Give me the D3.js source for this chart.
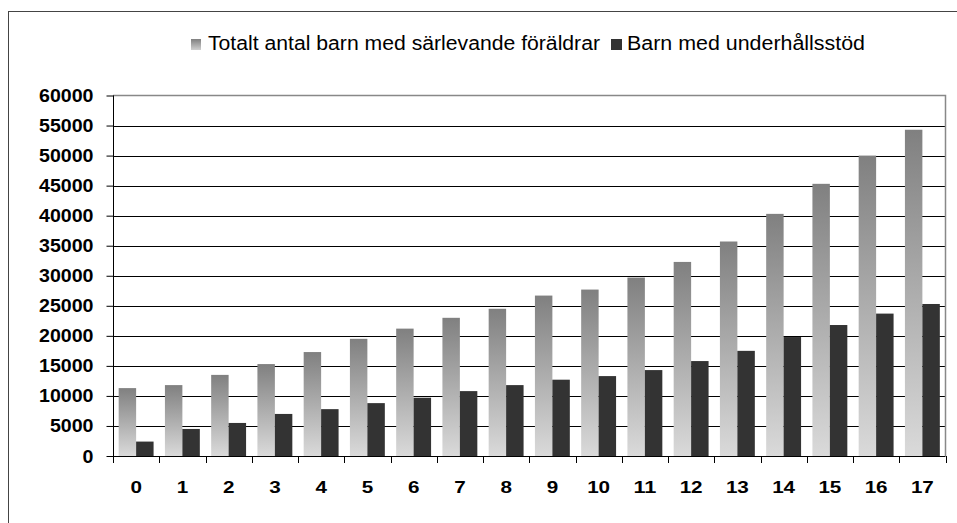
<!DOCTYPE html>
<html><head><meta charset="utf-8">
<script src="https://cdn.jsdelivr.net/npm/d3@7"></script>
<style>body{margin:0;background:#fff}svg{display:block}</style>
</head><body>
<svg id="c" width="957" height="523"></svg>
<script>
const categories = ["0","1","2","3","4","5","6","7","8","9","10","11","12","13","14","15","16","17"];
const totalChildren = [11300,11800,13500,15300,17300,19500,21200,23000,24500,26700,27700,29700,32300,35700,40300,45300,50000,54300];
const supportChildren = [2400,4500,5500,7000,7800,8800,9700,10800,11800,12700,13300,14300,15800,17500,19800,21800,23700,25300];
const seriesNames = ["Totalt antal barn med särlevande föräldrar","Barn med underhållsstöd"];
const yTicks = [0,5000,10000,15000,20000,25000,30000,35000,40000,45000,50000,55000,60000];

const FONT = "Liberation Sans, Arial, sans-serif";
const svg = d3.select("#c");
const L = 113, R = 945.5, T = 95.5, B = 456;

// outer border
svg.append("rect").attr("x",8.5).attr("y",11.5).attr("width",960).attr("height",530)
  .attr("fill","none").attr("stroke","#444").attr("stroke-width",1);

const defs = svg.append("defs");
const g = defs.append("linearGradient").attr("id","grad").attr("x1",0).attr("y1",0).attr("x2",0).attr("y2",1);
g.append("stop").attr("offset","0%").attr("stop-color","#808080");
g.append("stop").attr("offset","100%").attr("stop-color","#dadada");
const lg = defs.append("linearGradient").attr("id","lgrad").attr("x1",0).attr("y1",0).attr("x2",0).attr("y2",1);
lg.append("stop").attr("offset","0%").attr("stop-color","#808080");
lg.append("stop").attr("offset","100%").attr("stop-color","#d0d0d0");

const x = d3.scaleBand().domain(categories).range([L,R]).paddingInner(0).paddingOuter(0);
const y = d3.scaleLinear().domain([0,60000]).range([B,T]);
const inner = d3.scaleBand().domain([0,1]).range([0,x.bandwidth()]).paddingInner(0).paddingOuter(0.325);

// gridlines
svg.append("g").selectAll("line").data(yTicks.filter(d=>d>0 && d<60000)).join("line")
  .attr("x1",L).attr("x2",R).attr("y1",d=>Math.round(y(d))+0.5).attr("y2",d=>Math.round(y(d))+0.5)
  .attr("stroke","#000").attr("stroke-width",1);
// plot border top/right
svg.append("path").attr("d",`M${L},${T}H${R}V${B}`).attr("fill","none").attr("stroke","#888").attr("stroke-width",1.5);

// bars
const data = categories.map((c,i)=>({c, v:[totalChildren[i], supportChildren[i]]}));
const grp = svg.append("g").selectAll("g").data(data).join("g").attr("transform",d=>`translate(${x(d.c)},0)`);
grp.append("rect").attr("x",inner(0)).attr("width",inner.bandwidth())
  .attr("y",d=>y(d.v[0])).attr("height",d=>B-y(d.v[0])).attr("fill","url(#grad)");
grp.append("rect").attr("x",inner(1)).attr("width",inner.bandwidth())
  .attr("y",d=>y(d.v[1])).attr("height",d=>B-y(d.v[1])).attr("fill","#333333");

// y axis
const ya = svg.append("g").attr("transform",`translate(${L+0.5},0)`)
  .call(d3.axisLeft(y).tickValues(yTicks).tickSize(7).tickPadding(13).tickFormat(d3.format("d")));
ya.select(".domain").attr("stroke","#000").attr("d",`M0,${T}V${B}`);
ya.selectAll(".tick line").attr("stroke","#000");
ya.selectAll("text").attr("font-family",FONT).attr("font-size",17.5).attr("font-weight","bold").attr("fill","#000")
  .attr("dy",null).attr("y",6)
  .attr("textLength",function(){return this.textContent.length*10.9;}).attr("lengthAdjust","spacingAndGlyphs");

// x axis
const xa = svg.append("g").attr("transform",`translate(0,${B+0.5})`)
  .call(d3.axisBottom(x).tickSize(0));
xa.select(".domain").attr("stroke","#000").attr("d",`M${L},0H${R}`);
xa.selectAll("text").attr("font-family",FONT).attr("font-size",17).attr("font-weight","bold").attr("fill","#000")
  .attr("dy",null).attr("y",36)
  .attr("textLength",function(){return this.textContent.length*11.5;}).attr("lengthAdjust","spacingAndGlyphs");
svg.append("g").selectAll("line").data(d3.range(categories.length+1)).join("line")
  .attr("x1",i=>Math.round(L+i*x.step())+0.5).attr("x2",i=>Math.round(L+i*x.step())+0.5)
  .attr("y1",B).attr("y2",B+7).attr("stroke","#000");

// legend
const leg = svg.append("g").attr("font-family",FONT).attr("font-size",19.5).attr("fill","#000");
leg.append("rect").attr("x",191).attr("y",39).attr("width",10).attr("height",11).attr("fill","url(#lgrad)");
leg.append("text").attr("x",208).attr("y",49.5).attr("textLength",392).attr("lengthAdjust","spacingAndGlyphs").text(seriesNames[0]);
leg.append("rect").attr("x",611).attr("y",39).attr("width",11).attr("height",11).attr("fill","#333");
leg.append("text").attr("x",627).attr("y",49.5).attr("textLength",238).attr("lengthAdjust","spacingAndGlyphs").text(seriesNames[1]);
</script>
</body></html>
